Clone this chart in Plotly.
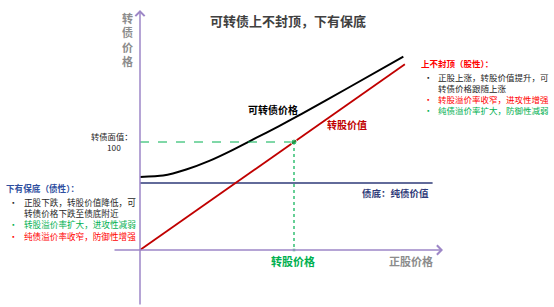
import plotly.graph_objects as go

W, H = 554, 307
FONT = "Noto Sans CJK SC"

# ---- data (stock price on x, bond price on y) ----
par_value = 100
conversion_price = 10
bond_floor = 62

stock_curve = [0, 1.5, 3.0, 4.5, 6.0, 7.5, 9.0, 10.5, 13.5, 17.1]
cb_price = [67.6, 68.9, 74.5, 82.5, 92.5, 103.5, 114.5, 126.0, 150.0, 179.0]

conv_stock = [0, 17.2]
conv_value = [0, 172]

floor_stock = [0, 19.0]
floor_value = [bond_floor, bond_floor]

# text
title = "可转债上不封顶，下有保底"
y_title = "转债价格"
x_title = "正股价格"
par_label = ["转债面值：", "100"]
left_head = "下有保底（债性）："
left_lines = [("正股下跌，转股价值降低，可", "#262626", True),
              ("转债价格下跌至债底附近", "#262626", False),
              ("转股溢价率扩大，进攻性减弱", "#00b050", True),
              ("纯债溢价率收窄，防御性增强", "#ff0000", True)]
right_head = "上不封顶（股性）："
right_lines = [("正股上涨，转股价值提升，可", "#262626", True),
               ("转债价格跟随上涨", "#262626", False),
               ("转股溢价率收窄，进攻性增强", "#ff0000", True),
               ("纯债溢价率扩大，防御性减弱", "#00b050", True)]

# axis ranges: origin sits at (140, 250) px
X0, Y0, SX, SY = 140, 250, 15.4, 1.08
x_range = [(0 - X0) / SX, (W - X0) / SX]
y_range = [(Y0 - H) / SY, Y0 / SY]

PURPLE = "#9d87c7"
RED = "#c00000"
GREEN = "#00b050"
NAVY = "#2e3a78"

fig = go.Figure()

# bond floor
fig.add_trace(go.Scatter(x=floor_stock, y=floor_value, mode="lines",
                         line=dict(color=NAVY, width=1.6), hoverinfo="skip"))
# conversion value
fig.add_trace(go.Scatter(x=conv_stock, y=conv_value, mode="lines",
                         line=dict(color=RED, width=1.8), hoverinfo="skip"))
# convertible bond price
fig.add_trace(go.Scatter(x=stock_curve, y=cb_price, mode="lines",
                         line=dict(color="black", width=2, shape="spline", smoothing=0.6),
                         hoverinfo="skip"))
# par value guides
fig.add_trace(go.Scatter(x=[0, conversion_price], y=[par_value, par_value], mode="lines",
                         line=dict(color=GREEN, width=1, dash="dash"), hoverinfo="skip"))
fig.add_trace(go.Scatter(x=[conversion_price, conversion_price], y=[par_value, 0], mode="lines",
                         line=dict(color=GREEN, width=1.2, dash="dot"), hoverinfo="skip"))
fig.add_trace(go.Scatter(x=[conversion_price, conversion_price], y=[par_value, 0], mode="markers",
                         marker=dict(color=GREEN, size=[6, 4]), hoverinfo="skip"))

# axes with arrows
fig.add_annotation(x=0, y=(Y0 - 10) / SY, ax=0, ay=(Y0 - 306) / SY,
                   xref="x", yref="y", axref="x", ayref="y", text="",
                   showarrow=True, arrowhead=4, arrowsize=1.2, arrowwidth=1.5,
                   arrowcolor=PURPLE)
fig.add_annotation(x=(443 - X0) / SX, y=0, ax=(113 - X0) / SX, ay=0,
                   xref="x", yref="y", axref="x", ayref="y", text="",
                   showarrow=True, arrowhead=4, arrowsize=1.2, arrowwidth=1.5,
                   arrowcolor=PURPLE)


def px(x):
    return x / W


def py(y):
    return 1 - y / H


def note(text, x, y, size, color, bold=False, xanchor="left", yanchor="middle", align="left"):
    t = f"<b>{text}</b>" if bold else text
    fig.add_annotation(x=px(x), y=py(y), xref="paper", yref="paper", text=t,
                       showarrow=False, xanchor=xanchor, yanchor=yanchor, align=align,
                       font=dict(family=FONT, size=size, color=color))


note(title, 288, 20, 13, "#404040", bold=True, xanchor="center")
# vertical axis title, one character per line
note("<br>".join(y_title), 127, 39, 11, "#8c8c8c", bold=True, xanchor="center", align="center")

note(par_label[0], 135, 136, 8.3, "#262626", xanchor="right")
note(par_label[1], 114, 147, 8.3, "#262626", xanchor="center")

note("可转债价格", 273, 110, 10, "black", bold=True, xanchor="center")
note("转股价值", 347, 125, 10, RED, bold=True, xanchor="center")
note("债底：纯债价值", 395, 193, 9.5, NAVY, bold=True, xanchor="center")
note("转股价格", 293, 261, 11, GREEN, bold=True, xanchor="center")
note(x_title, 411, 261, 11, "#8c8c8c", bold=True, xanchor="center")


def block(head, head_color, lines, x_head, x_bullet, x_text, y_head, size):
    """Header line plus a bulleted list; body lines share one text box."""
    note(head, x_head, y_head, size, head_color, bold=True)
    step = size * 1.3
    y_top = y_head + step * 0.5
    body = "<br>".join(f"<span style='color:{c}'>{t}</span>" for t, c, _ in lines)
    bullets = "<br>".join(f"<span style='color:{c}'>•</span>" if b else " "
                          for _, c, b in lines)
    note(body, x_text, y_top, size, "#262626", yanchor="top")
    note(bullets, x_bullet, y_top, size, "#262626", yanchor="top")


block(left_head, "#2f4f9f", left_lines, 4, 7, 22, 188, 8.6)
block(right_head, "#ff0000", right_lines, 419, 422, 436, 63, 8.5)

fig.update_layout(
    width=W, height=H, margin=dict(l=0, r=0, t=0, b=0),
    paper_bgcolor="white", plot_bgcolor="white", showlegend=False,
    xaxis=dict(range=x_range, visible=False, fixedrange=True),
    yaxis=dict(range=y_range, visible=False, fixedrange=True),
)

fig.write_html("out.html")
